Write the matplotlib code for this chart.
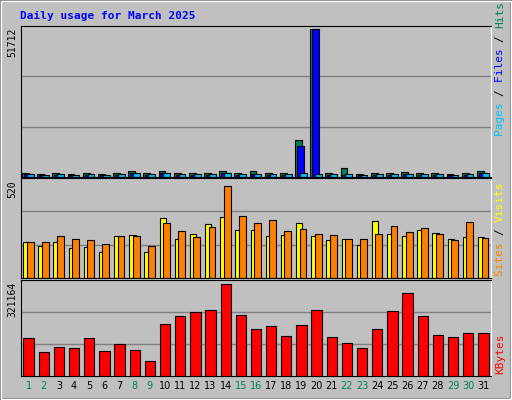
import matplotlib
matplotlib.use('Agg')
import matplotlib.pyplot as plt
from matplotlib.patches import Rectangle

days = list(range(1, 32))
weekend = [1, 2, 8, 9, 15, 16, 22, 23, 29, 30]

hits = [1400, 1000, 1300, 900, 1300, 900, 1300, 2100, 1300, 2000, 1300, 1300, 1300, 2200, 1300, 2000,
        1300, 1300, 12900, 51712, 1300, 3050, 900, 1300, 1300, 1800, 1300, 1300, 900, 1300, 2000]
files = [900, 600, 800, 600, 800, 600, 800, 1300, 800, 1300, 800, 800, 800, 1400, 800, 1200,
         800, 800, 10800, 51600, 800, 800, 600, 800, 800, 1100, 800, 800, 600, 800, 1300]
pages = [1000, 700, 1000, 700, 1000, 700, 1000, 1300, 1000, 1300, 1000, 1000, 1000, 1300, 1000, 1000,
         1000, 1000, 1300, 1000, 1000, 1000, 700, 1000, 1000, 1000, 1000, 1000, 700, 1000, 1400]

visits = [109, 97, 109, 91, 94, 79, 127, 130, 79, 181, 118, 133, 163, 184, 145, 145,
          127, 130, 166, 127, 115, 118, 100, 172, 133, 127, 145, 136, 118, 124, 124]
sites = [109, 109, 127, 118, 115, 103, 127, 127, 97, 166, 142, 124, 154, 277, 187, 166,
         175, 142, 148, 133, 130, 118, 118, 133, 157, 139, 151, 133, 115, 169, 121]
sites = [round(s * 520 / 277) for s in sites]
visits = [round(v * 520 / 277) for v in visits]

kbytes = [113, 71, 86, 83, 113, 74, 95, 77, 44, 155, 179, 191, 197, 275, 182, 140,
          149, 119, 152, 197, 116, 98, 83, 140, 194, 248, 179, 122, 116, 128, 128]
kbytes = [round(k * 321164 / 275) for k in kbytes]

BG = '#C0C0C0'
W, H = 512, 400
fig = plt.figure(figsize=(W / 100, H / 100), dpi=100)
fig.patch.set_facecolor(BG)
fig.patches.append(Rectangle((0, 0), 1, 1, transform=fig.transFigure, fill=False,
                             edgecolor='#808080', linewidth=3))
fig.patches.append(Rectangle((0.002, 0.002), 0.996, 0.996, transform=fig.transFigure, fill=False,
                             edgecolor='white', linewidth=1))

mono = 'DejaVu Sans Mono'
fig.text(20 / W, 1 - 16 / H, 'Daily usage for March 2025', color='#0000FF', fontsize=8,
         fontweight='bold', family=mono, va='center')
renderer = fig.canvas.get_renderer()


def make_ax(top, bottom, ymax, frac):
    ax = fig.add_axes([21 / W, 1 - bottom / H, 470 / W, (bottom - top) / H])
    ax.set_facecolor(BG)
    lim = ymax / frac
    ax.set_ylim(0, lim)
    ax.set_xlim(0.5, 31.5)
    for f in (1 / 3, 2 / 3):
        ax.axhline(lim * f, color='#808080', linewidth=1, zorder=0)
    ax.set_xticks([])
    ax.set_yticks([])
    for s in ax.spines.values():
        s.set_color('black')
    ax.spines['right'].set_color('white')
    fig.text(12 / W, 1 - (top + 2) / H, str(ymax), rotation=90, fontsize=7, family=mono,
             va='top', ha='center')
    return ax


def side_label(bottom, parts):
    # parts listed bottom to top, text reads upward
    y = 1 - bottom / H
    for txt, col in parts:
        t = fig.text(500 / W, y, txt, rotation=90, color=col, fontsize=8, family=mono,
                     va='bottom', ha='center')
        ext = t.get_window_extent(renderer)
        y += ext.height / H


ax1 = make_ax(26, 177, 51712, 148 / 151)
ax1.bar([d - 0.2 for d in days], hits, width=0.45, color='#00805C', edgecolor='black', linewidth=0.8)
ax1.bar([d - 0.08 for d in days], files, width=0.45, color='#0000FF', edgecolor='black', linewidth=0.8)
ax1.bar([d + 0.12 for d in days], pages, width=0.45, color='#00C0FF', edgecolor='black', linewidth=0.8)
side_label(136, [('Pages ', '#00C0FF'), ('/ ', 'black'), ('Files ', '#0000FF'),
                 ('/ ', 'black'), ('Hits', '#00805C')])

ax2 = make_ax(178, 278, 520, 92 / 100)
ax2.bar([d - 0.15 for d in days], visits, width=0.42, color='#FFFF00', edgecolor='black', linewidth=0.8)
ax2.bar([d + 0.1 for d in days], sites, width=0.45, color='#FF8000', edgecolor='black', linewidth=0.8)
side_label(276, [('Sites ', '#FF8000'), ('/ ', 'black'), ('Visits', '#FFFF00')])

ax3 = make_ax(280, 376, 321164, 92 / 96)
ax3.bar(days, kbytes, width=0.68, color='#FF0000', edgecolor='black', linewidth=0.8)
side_label(374, [('KBytes', '#FF0000')])

for d in days:
    col = '#00805C' if d in weekend else 'black'
    ax3.text(d, -0.1, str(d), transform=ax3.get_xaxis_transform(), ha='center', va='center',
             fontsize=7, color=col)

fig.savefig('out.png', dpi=100, facecolor=BG)
